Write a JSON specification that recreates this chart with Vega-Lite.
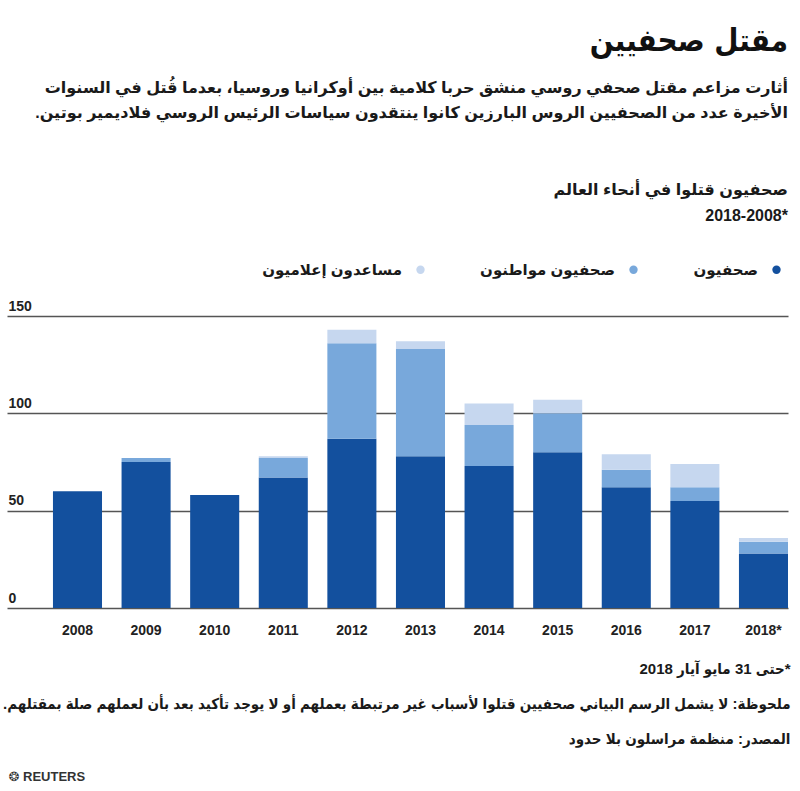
{
  "$schema": "https://vega.github.io/schema/vega-lite/v6.json",
  "width": 781,
  "height": 292,
  "autosize": {"type": "none"},
  "padding": {"left": 7, "top": 316, "right": 12, "bottom": 183},
  "background": "white",
  "config": {
    "font": "Liberation Sans, DejaVu Sans",
    "view": {"stroke": null}
  },
  "title": {
    "text": "مقتل صحفيين",
    "subtitle": [
      "أثارت مزاعم مقتل صحفي روسي منشق حربا كلامية بين أوكرانيا وروسيا، بعدما قُتل في السنوات",
      "الأخيرة عدد من الصحفيين الروس البارزين كانوا ينتقدون سياسات الرئيس الروسي فلاديمير بوتين.\u200f",
      "\u200f",
      "\u200f",
      "صحفيون قتلوا في أنحاء العالم",
      "2018-2008*"
    ],
    "anchor": "end",
    "frame": "group",
    "font": "DejaVu Sans Condensed, DejaVu Sans",
    "fontSize": 31,
    "fontWeight": "bold",
    "color": "#111111",
    "subtitleFont": "Liberation Sans, DejaVu Sans",
    "subtitleFontSize": 16,
    "subtitleFontWeight": "bold",
    "subtitleColor": "#1a1a1a",
    "subtitleLineHeight": 25.7,
    "subtitlePadding": 22,
    "offset": 37
  },
  "data": {
    "values": [
      {"year": "2008", "type": "صحفيون", "value": 60},
      {"year": "2008", "type": "صحفيون مواطنون", "value": 0},
      {"year": "2008", "type": "مساعدون إعلاميون", "value": 0},
      {"year": "2009", "type": "صحفيون", "value": 75},
      {"year": "2009", "type": "صحفيون مواطنون", "value": 2},
      {"year": "2009", "type": "مساعدون إعلاميون", "value": 0},
      {"year": "2010", "type": "صحفيون", "value": 58},
      {"year": "2010", "type": "صحفيون مواطنون", "value": 0},
      {"year": "2010", "type": "مساعدون إعلاميون", "value": 0},
      {"year": "2011", "type": "صحفيون", "value": 67},
      {"year": "2011", "type": "صحفيون مواطنون", "value": 10},
      {"year": "2011", "type": "مساعدون إعلاميون", "value": 1},
      {"year": "2012", "type": "صحفيون", "value": 87},
      {"year": "2012", "type": "صحفيون مواطنون", "value": 49},
      {"year": "2012", "type": "مساعدون إعلاميون", "value": 7},
      {"year": "2013", "type": "صحفيون", "value": 78},
      {"year": "2013", "type": "صحفيون مواطنون", "value": 55},
      {"year": "2013", "type": "مساعدون إعلاميون", "value": 4},
      {"year": "2014", "type": "صحفيون", "value": 73},
      {"year": "2014", "type": "صحفيون مواطنون", "value": 21},
      {"year": "2014", "type": "مساعدون إعلاميون", "value": 11},
      {"year": "2015", "type": "صحفيون", "value": 80},
      {"year": "2015", "type": "صحفيون مواطنون", "value": 20},
      {"year": "2015", "type": "مساعدون إعلاميون", "value": 7},
      {"year": "2016", "type": "صحفيون", "value": 62},
      {"year": "2016", "type": "صحفيون مواطنون", "value": 9},
      {"year": "2016", "type": "مساعدون إعلاميون", "value": 8},
      {"year": "2017", "type": "صحفيون", "value": 55},
      {"year": "2017", "type": "صحفيون مواطنون", "value": 7},
      {"year": "2017", "type": "مساعدون إعلاميون", "value": 12},
      {"year": "2018*", "type": "صحفيون", "value": 28},
      {"year": "2018*", "type": "صحفيون مواطنون", "value": 6},
      {"year": "2018*", "type": "مساعدون إعلاميون", "value": 2}
    ]
  },
  "mark": {"type": "bar"},
  "encoding": {
    "x": {
      "field": "year",
      "type": "ordinal",
      "scale": {"paddingInner": 0.285, "paddingOuter": 0.335, "align": 1},
      "axis": {
        "labelAngle": 0,
        "labelFontSize": 14,
        "labelFontWeight": "bold",
        "labelColor": "#222222",
        "labelPadding": 15,
        "ticks": false,
        "domain": false,
        "title": [
          "\u200f*حتى 31 مايو آيار 2018",
          "ملحوظة: لا يشمل الرسم البياني  صحفيين قتلوا لأسباب غير مرتبطة بعملهم أو لا يوجد تأكيد بعد بأن لعملهم صلة بمقتلهم.\u200f",
          "المصدر: منظمة مراسلون بلا حدود"
        ],
        "titleFont": "Liberation Sans, DejaVu Sans Condensed",
        "titleFontSize": 15,
        "titleFontWeight": "bold",
        "titleColor": "#1a1a1a",
        "titleAlign": "right",
        "titleAnchor": "end",
        "titleX": 783,
        "titleY": 60,
        "titleBaseline": "middle",
        "titleLineHeight": 35
      }
    },
    "y": {
      "field": "value",
      "type": "quantitative",
      "stack": "zero",
      "scale": {"domain": [0, 150]},
      "axis": {
        "values": [0, 50, 100, 150],
        "grid": true,
        "gridColor": "#555555",
        "gridWidth": 1.5,
        "domain": false,
        "ticks": false,
        "tickSize": 0,
        "labelAlign": "left",
        "labelBaseline": "bottom",
        "labelPadding": -1,
        "labelOffset": -3,
        "labelFontSize": 14,
        "labelFontWeight": "bold",
        "labelColor": "#222222",
        "title": "❂ REUTERS",
        "titleAngle": 0,
        "titleAlign": "left",
        "titleBaseline": "middle",
        "titleX": 1,
        "titleY": 460,
        "titleFontSize": 13,
        "titleFontWeight": "bold",
        "titleColor": "#333333"
      }
    },
    "color": {
      "field": "type",
      "type": "nominal",
      "scale": {
        "domain": ["مساعدون إعلاميون", "صحفيون مواطنون", "صحفيون"],
        "range": ["#c6d7ef", "#78a8db", "#13509e"]
      },
      "legend": {
        "orient": "none",
        "legendX": 406,
        "legendY": -54,
        "direction": "horizontal",
        "title": null,
        "symbolType": "circle",
        "symbolSize": 70,
        "labelFontSize": 15,
        "labelFontWeight": "bold",
        "labelColor": "#1a1a1a",
        "labelAlign": "right",
        "labelOffset": -26,
        "columnPadding": 55
      }
    },
    "order": {"field": "type", "sort": "ascending"}
  }
}
